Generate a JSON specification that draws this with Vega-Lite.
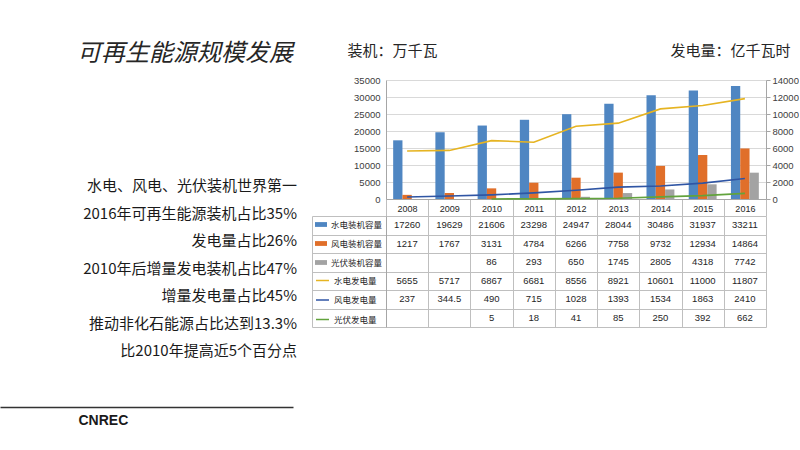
{
  "$schema": "https://vega.github.io/schema/vega-lite/v6.json",
  "background": "white",
  "padding": {"left": 0, "top": 42, "right": 0, "bottom": 0},
  "config": {
    "view": {"stroke": null},
    "font": "Liberation Sans",
    "axis": {"labelFont": "Liberation Sans", "labelFontSize": 9.5, "labelColor": "#404040", "titleFont": "Noto Sans CJK SC"}
  },
  "datasets": {
    "notes": [
      {"line": 1, "text": "水电、风电、光伏装机世界第一"},
      {"line": 2, "text": "2016年可再生能源装机占比35%"},
      {"line": 3, "text": "发电量占比26%"},
      {"line": 4, "text": "2010年后增量发电装机占比47%"},
      {"line": 5, "text": "增量发电量占比45%"},
      {"line": 6, "text": "推动非化石能源占比达到13.3%"},
      {"line": 7, "text": "比2010年提高近5个百分点"}
    ],
    "all": [
      {"kind": "cap", "series": "水电装机容量", "year": "2008", "value": 17260},
      {"kind": "cap", "series": "水电装机容量", "year": "2009", "value": 19629},
      {"kind": "cap", "series": "水电装机容量", "year": "2010", "value": 21606},
      {"kind": "cap", "series": "水电装机容量", "year": "2011", "value": 23298},
      {"kind": "cap", "series": "水电装机容量", "year": "2012", "value": 24947},
      {"kind": "cap", "series": "水电装机容量", "year": "2013", "value": 28044},
      {"kind": "cap", "series": "水电装机容量", "year": "2014", "value": 30486},
      {"kind": "cap", "series": "水电装机容量", "year": "2015", "value": 31937},
      {"kind": "cap", "series": "水电装机容量", "year": "2016", "value": 33211},
      {"kind": "cap", "series": "风电装机容量", "year": "2008", "value": 1217},
      {"kind": "cap", "series": "风电装机容量", "year": "2009", "value": 1767},
      {"kind": "cap", "series": "风电装机容量", "year": "2010", "value": 3131},
      {"kind": "cap", "series": "风电装机容量", "year": "2011", "value": 4784},
      {"kind": "cap", "series": "风电装机容量", "year": "2012", "value": 6266},
      {"kind": "cap", "series": "风电装机容量", "year": "2013", "value": 7758},
      {"kind": "cap", "series": "风电装机容量", "year": "2014", "value": 9732},
      {"kind": "cap", "series": "风电装机容量", "year": "2015", "value": 12934},
      {"kind": "cap", "series": "风电装机容量", "year": "2016", "value": 14864},
      {"kind": "cap", "series": "光伏装机容量", "year": "2010", "value": 86},
      {"kind": "cap", "series": "光伏装机容量", "year": "2011", "value": 293},
      {"kind": "cap", "series": "光伏装机容量", "year": "2012", "value": 650},
      {"kind": "cap", "series": "光伏装机容量", "year": "2013", "value": 1745},
      {"kind": "cap", "series": "光伏装机容量", "year": "2014", "value": 2805},
      {"kind": "cap", "series": "光伏装机容量", "year": "2015", "value": 4318},
      {"kind": "cap", "series": "光伏装机容量", "year": "2016", "value": 7742},
      {"kind": "gen", "series": "水电发电量", "year": "2008", "value": 5655},
      {"kind": "gen", "series": "水电发电量", "year": "2009", "value": 5717},
      {"kind": "gen", "series": "水电发电量", "year": "2010", "value": 6867},
      {"kind": "gen", "series": "水电发电量", "year": "2011", "value": 6681},
      {"kind": "gen", "series": "水电发电量", "year": "2012", "value": 8556},
      {"kind": "gen", "series": "水电发电量", "year": "2013", "value": 8921},
      {"kind": "gen", "series": "水电发电量", "year": "2014", "value": 10601},
      {"kind": "gen", "series": "水电发电量", "year": "2015", "value": 11000},
      {"kind": "gen", "series": "水电发电量", "year": "2016", "value": 11807},
      {"kind": "gen", "series": "风电发电量", "year": "2008", "value": 237},
      {"kind": "gen", "series": "风电发电量", "year": "2009", "value": 344.5},
      {"kind": "gen", "series": "风电发电量", "year": "2010", "value": 490},
      {"kind": "gen", "series": "风电发电量", "year": "2011", "value": 715},
      {"kind": "gen", "series": "风电发电量", "year": "2012", "value": 1028},
      {"kind": "gen", "series": "风电发电量", "year": "2013", "value": 1393},
      {"kind": "gen", "series": "风电发电量", "year": "2014", "value": 1534},
      {"kind": "gen", "series": "风电发电量", "year": "2015", "value": 1863},
      {"kind": "gen", "series": "风电发电量", "year": "2016", "value": 2410},
      {"kind": "gen", "series": "光伏发电量", "year": "2010", "value": 5},
      {"kind": "gen", "series": "光伏发电量", "year": "2011", "value": 18},
      {"kind": "gen", "series": "光伏发电量", "year": "2012", "value": 41},
      {"kind": "gen", "series": "光伏发电量", "year": "2013", "value": 85},
      {"kind": "gen", "series": "光伏发电量", "year": "2014", "value": 250},
      {"kind": "gen", "series": "光伏发电量", "year": "2015", "value": 392},
      {"kind": "gen", "series": "光伏发电量", "year": "2016", "value": 662}
    ]
  },
  "bounds": "flush",
  "spacing": 93,
  "hconcat": [
    {
      "width": 293,
      "height": 327,
      "data": {"name": "notes"},
      "title": {"text": "可再生能源规模发展", "anchor": "start", "dx": 77, "offset": 14, "fontSize": 24, "font": "Noto Sans CJK SC", "fontStyle": "italic", "fontWeight": "normal", "color": "#262626"},
      "mark": {"type": "text", "align": "right", "baseline": "middle", "fontSize": 15, "font": "Noto Sans CJK SC", "color": "#1a1a1a", "dx": 4},
      "encoding": {
        "x": {"datum": 1, "type": "quantitative", "scale": {"domain": [0, 1]},
          "axis": {"domain": true, "domainColor": "#333333", "domainWidth": 1.5, "ticks": false, "labels": false, "grid": false,
            "title": "CNREC", "titleX": 78, "titleY": 13, "titleAlign": "left", "titleBaseline": "middle", "titleFont": "Liberation Sans Narrow, Liberation Sans", "titleFontSize": 14, "titleFontWeight": "bold", "titleColor": "#1a1a1a"}},
        "y": {"field": "line", "type": "ordinal", "scale": {"type": "point", "range": [106, 271], "padding": 0}, "axis": null},
        "text": {"field": "text"}
      }
    },
    {
      "bounds": "flush",
      "spacing": 17,
      "vconcat": [
        {
          "width": 380,
          "height": 119,
          "data": {"name": "all"},
          "layer": [
            {
              "transform": [{"filter": "datum.kind == 'cap'"}],
              "mark": {"type": "bar"},
              "encoding": {
                "x": {"field": "year", "type": "ordinal", "scale": {"paddingInner": 0, "paddingOuter": 0},
                  "axis": {"title": null, "labelAngle": 0, "domain": true, "domainColor": "#a6a6a6", "ticks": true, "tickBand": "extent", "tickSize": 17, "tickColor": "#bfbfbf", "labelPadding": -12, "labelFontSize": 9, "labelColor": "#262626", "grid": false}},
                "xOffset": {"field": "series", "type": "nominal", "scale": {"domain": ["水电装机容量", "风电装机容量", "光伏装机容量"], "paddingInner": 0, "paddingOuter": 0.77}},
                "y": {"field": "value", "type": "quantitative", "scale": {"domain": [0, 35000]},
                  "axis": {"orient": "left", "format": "d", "values": [0, 5000, 10000, 15000, 20000, 25000, 30000, 35000], "grid": true, "gridColor": "#d9d9d9", "domain": true, "domainColor": "#a6a6a6", "ticks": false, "labelPadding": 6,
                    "title": "装机：万千瓦", "titleAngle": 0, "titleX": -39, "titleY": -30, "titleAlign": "left", "titleBaseline": "middle", "titleFontSize": 15, "titleFontWeight": "normal", "titleColor": "#262626"}},
                "color": {"field": "series", "type": "nominal",
                  "scale": {"domain": ["水电装机容量", "风电装机容量", "光伏装机容量"], "range": ["#4f86c2", "#e06f2a", "#a3a3a3"]},
                  "legend": {"orient": "none", "direction": "vertical", "legendX": -71, "legendY": 138.5, "title": null, "padding": 0, "symbolType": "M-1,-0.4H1V0.4H-1Z", "symbolSize": 144, "symbolStrokeWidth": 0, "labelFont": "Noto Sans CJK SC", "labelFontSize": 8.5, "labelColor": "#262626", "rowPadding": 8, "labelOffset": 4}}
              }
            },
            {
              "transform": [{"filter": "datum.kind == 'gen'"}],
              "mark": {"type": "line", "strokeWidth": 1.6},
              "encoding": {
                "x": {"field": "year", "type": "ordinal"},
                "y": {"field": "value", "type": "quantitative", "scale": {"domain": [0, 14000]},
                  "axis": {"orient": "right", "format": "d", "values": [0, 2000, 4000, 6000, 8000, 10000, 12000, 14000], "grid": false, "domain": true, "domainColor": "#a6a6a6", "ticks": true, "tickSize": 4, "tickColor": "#a6a6a6", "labelPadding": 2,
                    "title": "发电量：亿千瓦时", "titleAngle": 0, "titleX": -96, "titleY": -30, "titleAlign": "left", "titleBaseline": "middle", "titleFontSize": 15, "titleFontWeight": "normal", "titleColor": "#262626"}},
                "color": {"field": "series", "type": "nominal",
                  "scale": {"domain": ["水电发电量", "风电发电量", "光伏发电量"], "range": ["#e6b422", "#2f55a4", "#62a33c"]},
                  "legend": {"orient": "none", "direction": "vertical", "legendX": -71, "legendY": 193, "title": null, "padding": 0, "symbolType": "stroke", "symbolSize": 169, "symbolStrokeWidth": 1.5, "labelFont": "Noto Sans CJK SC", "labelFontSize": 8.5, "labelColor": "#262626", "rowPadding": 7.5, "labelOffset": 4}}
              }
            }
          ],
          "resolve": {"scale": {"y": "independent", "color": "independent"}}
        },
        {
          "width": 380,
          "height": 111,
          "data": {"name": "all"},
          "layer": [
            {
              "mark": {"type": "text", "fontSize": 9.5, "color": "#262626", "font": "Liberation Sans"},
              "encoding": {
                "x": {"field": "year", "type": "ordinal", "scale": {"paddingInner": 0, "paddingOuter": 0},
                  "axis": {"orient": "top", "labels": false, "ticks": false, "domain": false, "title": null, "grid": true, "gridColor": "#bfbfbf", "tickBand": "extent"}},
                "y": {"field": "series", "type": "nominal",
                  "scale": {"domain": ["水电装机容量", "风电装机容量", "光伏装机容量", "水电发电量", "风电发电量", "光伏发电量"], "paddingInner": 0, "paddingOuter": 0},
                  "axis": {"orient": "left", "labels": false, "title": null, "ticks": true, "tickSize": 74, "tickColor": "#bfbfbf", "tickBand": "extent", "grid": true, "gridColor": "#bfbfbf", "domain": true, "domainColor": "#a6a6a6"}},
                "text": {"field": "value", "type": "nominal"}
              }
            },
            {
              "mark": {"type": "text", "text": ""},
              "encoding": {
                "y": {"field": "series", "type": "nominal",
                  "axis": {"orient": "left", "offset": 74, "labels": false, "ticks": false, "grid": false, "domain": true, "domainColor": "#bfbfbf", "title": null}}
              }
            }
          ],
          "resolve": {"axis": {"y": "independent"}}
        }
      ]
    }
  ]
}
